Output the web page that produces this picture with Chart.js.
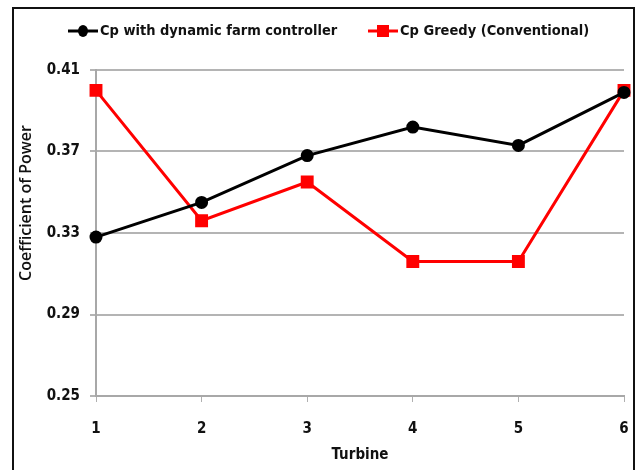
<!DOCTYPE html>
<html>
<head>
<meta charset="utf-8">
<script src="https://cdn.jsdelivr.net/npm/chart.js@4/dist/chart.umd.min.js"></script>
<style>
  html, body { margin: 0; padding: 0; background: #fff; }
  #wrap { width: 636px; height: 470px; position: relative; }
</style>
</head>
<body>
<div id="wrap"><canvas id="c" width="636" height="470"></canvas></div>
<script>
const turbines = ['1', '2', '3', '4', '5', '6'];
const cpDynamic = [0.328, 0.345, 0.368, 0.382, 0.373, 0.399];
const cpGreedy = [0.400, 0.336, 0.355, 0.316, 0.316, 0.400];
const yTicks = [0.25, 0.29, 0.33, 0.37, 0.41];
const yTitle = 'Coefficient of Power';

const FONT = '"Liberation Sans Narrow", "Arial Narrow", "DejaVu Sans Condensed", sans-serif';

// Outer frame around the figure
const framePlugin = {
  id: 'frame',
  afterDraw(chart) {
    const ctx = chart.ctx;
    ctx.save();
    ctx.strokeStyle = '#111';
    ctx.lineWidth = 2;
    ctx.beginPath();
    ctx.moveTo(13, 472);
    ctx.lineTo(13, 8);
    ctx.lineTo(634, 8);
    ctx.lineTo(634, 472);
    ctx.stroke();
    ctx.restore();
  }
};

// Rotated y-axis title, sitting a little above the middle of the plot
const yTitlePlugin = {
  id: 'yTitle',
  afterDraw(chart) {
    const ctx = chart.ctx;
    ctx.save();
    ctx.translate(26, 203);
    ctx.rotate(-Math.PI / 2);
    ctx.font = '600 16px "Open Sans", "DejaVu Sans", sans-serif';
    ctx.fillStyle = '#111';
    ctx.textAlign = 'center';
    ctx.textBaseline = 'middle';
    ctx.fillText(yTitle, 0, 0);
    ctx.restore();
  }
};

// Legend: line sample with marker in the middle, followed by the label
const legendPlugin = {
  id: 'lineLegend',
  afterDraw(chart) {
    const ctx = chart.ctx;
    ctx.save();
    ctx.font = 'bold 14.5px ' + FONT;
    ctx.textBaseline = 'middle';
    const y = 31;
    const starts = [68, 368];
    chart.data.datasets.forEach((ds, i) => {
      const x0 = starts[i];
      ctx.strokeStyle = ds.borderColor;
      ctx.lineWidth = 3;
      ctx.beginPath();
      ctx.moveTo(x0, y);
      ctx.lineTo(x0 + 30, y);
      ctx.stroke();
      ctx.fillStyle = ds.pointBackgroundColor;
      if (ds.pointStyle === 'rect') {
        ctx.fillRect(x0 + 9, y - 6, 12, 12);
      } else {
        ctx.beginPath();
        ctx.ellipse(x0 + 15, y, 5, 6, 0, 0, Math.PI * 2);
        ctx.fill();
      }
      ctx.fillStyle = '#111';
      ctx.textAlign = 'left';
      ctx.fillText(ds.label, x0 + 32, y);
    });
    ctx.restore();
  }
};

new Chart(document.getElementById('c'), {
  type: 'line',
  data: {
    labels: turbines,
    datasets: [
      {
        label: 'Cp with dynamic farm controller',
        data: cpDynamic,
        borderColor: '#000000',
        backgroundColor: '#000000',
        pointBackgroundColor: '#000000',
        pointBorderColor: '#000000',
        pointStyle: 'circle',
        pointRadius: 5,
        borderWidth: 3,
        tension: 0
      },
      {
        label: 'Cp Greedy (Conventional)',
        data: cpGreedy,
        borderColor: '#ff0000',
        backgroundColor: '#ff0000',
        pointBackgroundColor: '#ff0000',
        pointBorderColor: '#ff0000',
        pointStyle: 'rect',
        pointRadius: 7,
        borderWidth: 3,
        tension: 0
      }
    ]
  },
  options: {
    responsive: false,
    animation: false,
    layout: { padding: { top: 70, right: 12, left: 14, bottom: 0 } },
    plugins: { legend: { display: false }, tooltip: { enabled: false } },
    scales: {
      x: {
        type: 'category',
        offset: false,
        grid: {
          display: true,
          drawOnChartArea: false,
          drawTicks: true,
          tickLength: 6,
          color: '#b0b0b0'
        },
        border: { color: '#a8a8a8', width: 2 },
        ticks: {
          color: '#111',
          font: { family: FONT, size: 15, weight: 'bold' },
          padding: 18,
          maxRotation: 0
        },
        title: {
          display: true,
          text: 'Turbine',
          color: '#111',
          font: { family: FONT, size: 15, weight: 'bold' },
          padding: { top: 2, bottom: 6 }
        },
        afterFit(scale) {
          scale.height = 74;
          scale.paddingLeft = 0;
          scale.paddingRight = 0;
        }
      },
      y: {
        min: 0.25,
        max: 0.41,
        afterBuildTicks(scale) {
          scale.ticks = yTicks.map(v => ({ value: v }));
        },
        grid: {
          color: '#b4b4b4',
          lineWidth: 2,
          tickLength: 6
        },
        border: { color: '#a8a8a8', width: 2 },
        ticks: {
          color: '#111',
          font: { family: FONT, size: 15, weight: 'bold' },
          padding: 10,
          callback: v => v.toFixed(2)
        },
        afterFit(scale) { scale.width = 82; }
      }
    }
  },
  plugins: [framePlugin, yTitlePlugin, legendPlugin]
});
</script>
</body>
</html>
